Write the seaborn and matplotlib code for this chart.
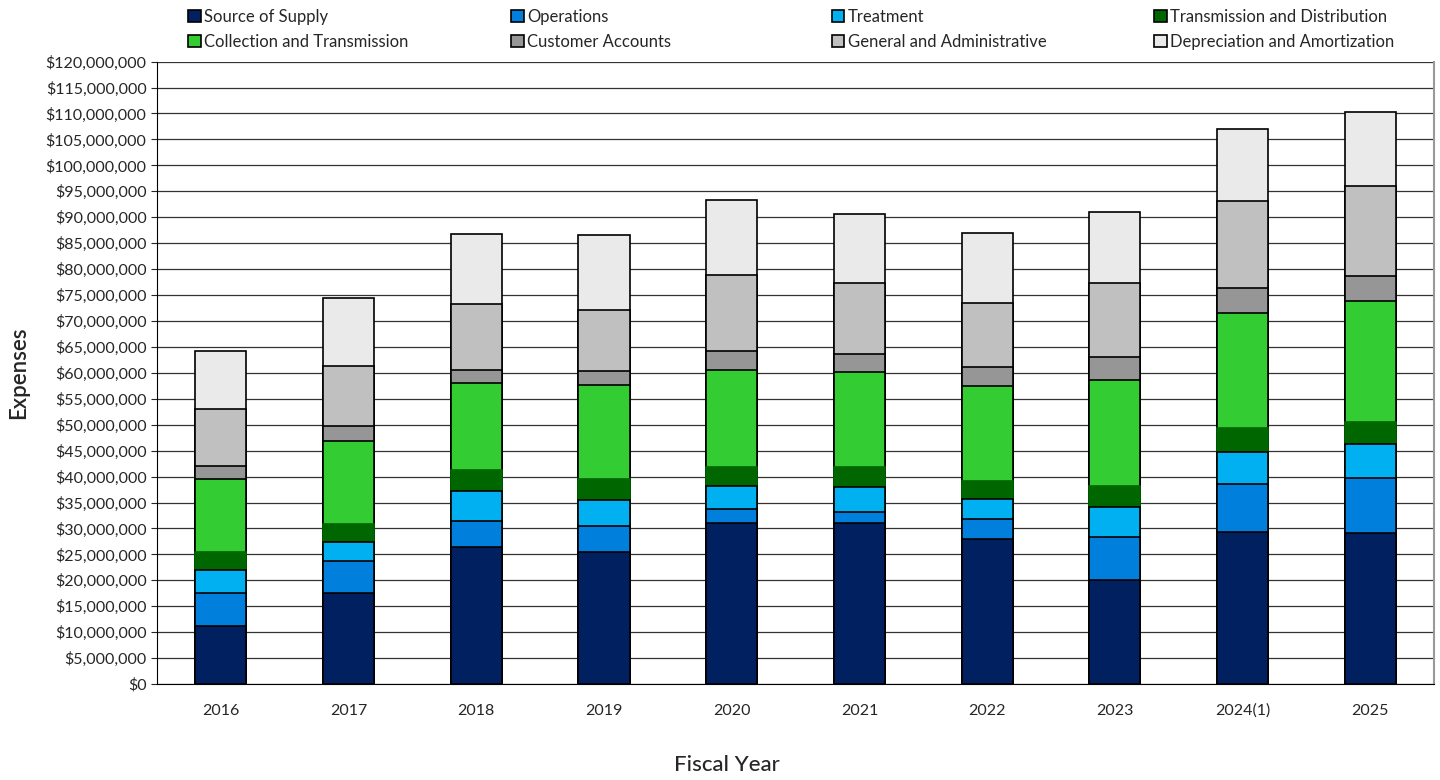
import numpy as np
import pandas as pd
import matplotlib
matplotlib.use("Agg")
import matplotlib.pyplot as plt
import matplotlib.ticker as mticker
from matplotlib.patches import Patch
import seaborn as sns

years = ["2016", "2017", "2018", "2019", "2020", "2021", "2022", "2023", "2024(1)", "2025"]

# expenses by category, millions of dollars
source_of_supply = [11.2, 17.5, 26.4, 25.5, 31.1, 31.1, 28.0, 20.0, 29.3, 29.1]
operations = [6.3, 6.3, 5.0, 5.0, 2.7, 2.1, 3.8, 8.3, 9.2, 10.7]
treatment = [4.4, 3.6, 5.8, 5.0, 4.4, 4.7, 3.8, 5.8, 6.3, 6.5]
trans_distribution = [3.6, 3.5, 4.0, 4.1, 3.7, 3.9, 3.6, 4.0, 4.5, 4.2]
collection_trans = [14.1, 16.0, 16.9, 18.1, 18.7, 18.3, 18.3, 20.6, 22.3, 23.4]
customer_accounts = [2.4, 2.9, 2.5, 2.6, 3.7, 3.6, 3.7, 4.3, 4.7, 4.8]
general_admin = [11.0, 11.6, 12.6, 11.9, 14.6, 13.7, 12.2, 14.4, 16.9, 17.3]
depreciation = [11.2, 13.1, 13.6, 14.4, 14.5, 13.3, 13.5, 13.7, 13.8, 14.2]

series_names = ["Source of Supply", "Operations", "Treatment", "Transmission and Distribution",
                "Collection and Transmission", "Customer Accounts", "General and Administrative",
                "Depreciation and Amortization"]
series_values = [source_of_supply, operations, treatment, trans_distribution,
                 collection_trans, customer_accounts, general_admin, depreciation]
colors = ["#002060", "#0080DC", "#00B0F0", "#006600", "#33CC33", "#969696", "#C0C0C0", "#EAEAEA"]
edges = ["black", "black", "black", "#006600", "black", "black", "black", "black"]

df = pd.DataFrame({"year": years})
running = np.zeros(len(years))
for name, vals in zip(series_names, series_values):
    running = running + np.array(vals) * 1e6
    df[name] = running

sns.set_style("white")
plt.rcParams["font.family"] = ["Lato", "DejaVu Sans"]

fig, ax = plt.subplots(figsize=(14.4, 7.8), dpi=100)
fig.subplots_adjust(left=0.109, right=0.996, bottom=0.123, top=0.921)

# draw cumulative totals from the top down so each layer sits on the next
for name, col, ec in reversed(list(zip(series_names, colors, edges))):
    sns.barplot(data=df, x="year", y=name, color=col, width=0.4,
                edgecolor=ec, linewidth=1.2, saturation=1, ax=ax, zorder=3)

ax.set_ylim(0, 120e6)
ax.set_xlim(-0.5, len(years) - 0.5)
ax.yaxis.set_major_locator(mticker.MultipleLocator(5e6))
ax.yaxis.set_major_formatter(mticker.FuncFormatter(lambda v, p: f"${v:,.0f}"))
ax.yaxis.grid(True, color="#333333", linewidth=0.9)
ax.set_axisbelow(True)

ax.xaxis.set_minor_locator(mticker.FixedLocator(np.arange(-0.5, len(years), 1.0)))
ax.tick_params(axis="x", which="major", length=0, labelsize=11.5, pad=14)
ax.tick_params(axis="x", which="minor", length=6, color="#555555", direction="out")
ax.tick_params(axis="y", length=4, labelsize=11.5, direction="out", left=True)

for side in ["left", "bottom"]:
    ax.spines[side].set_color("black")
ax.spines["right"].set_color("#999999")
ax.spines["right"].set_linewidth(1.5)
ax.spines["top"].set_visible(False)

ax.set_ylabel("Expenses", fontsize=16, fontweight="semibold", labelpad=12)
ax.set_xlabel("Fiscal Year", fontsize=16, fontweight="medium", va="center")
ax.xaxis.set_label_coords(0.446, -0.13)

# legend: 4 evenly spaced columns, two rows each
handles = [Patch(facecolor=c, edgecolor="black", linewidth=1.2, label=n) for n, c in zip(series_names, colors)]
col_x = [188, 511, 832, 1154]
for i, x in enumerate(col_x):
    leg = fig.legend([handles[i], handles[i + 4]], [series_names[i], series_names[i + 4]],
                     loc="upper left", bbox_to_anchor=(x / 1440, 1 - 9 / 780), frameon=False,
                     fontsize=12, handlelength=0.75, handleheight=0.75, handletextpad=0.2,
                     labelspacing=0.55, borderaxespad=0, borderpad=0)

plt.savefig("out.png")
plt.close()
